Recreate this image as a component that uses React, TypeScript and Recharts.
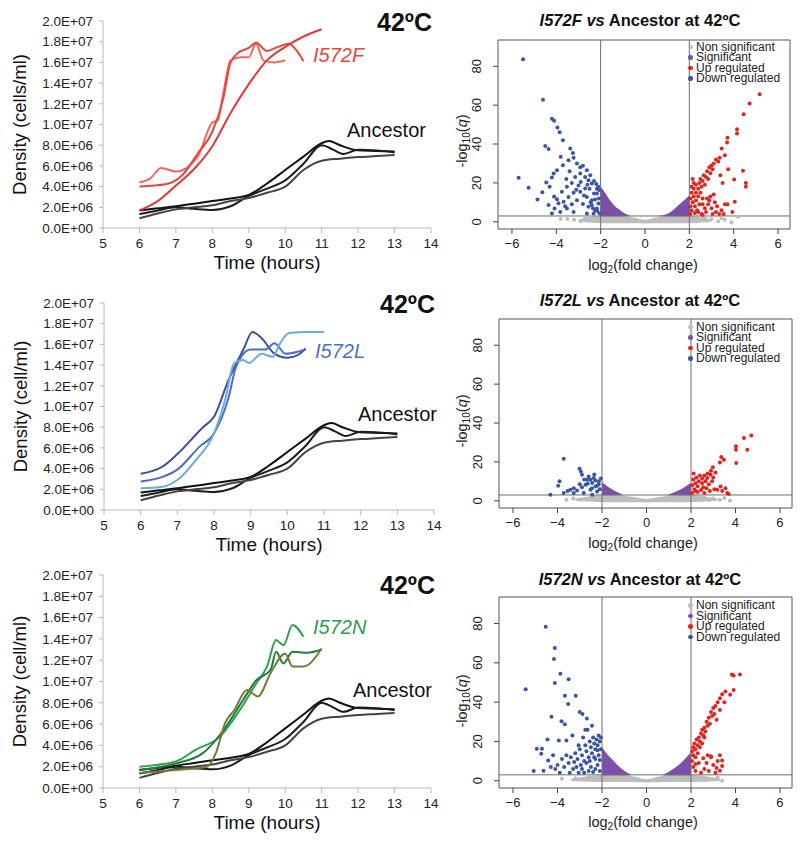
import React from "react";
import {
  LineChart,
  Line,
  XAxis,
  YAxis,
  ComposedChart,
  Scatter,
  Area,
  ReferenceLine,
  ReferenceArea,
} from "recharts";

const FONT = '"Liberation Sans", Arial, Helvetica, sans-serif';

type Pt = [number, number];
type Band = [number, number, number];

// ---------- growth curves (density in millions of cells/ml) ----------
const hours = [5, 6, 7, 8, 9, 10, 11, 12, 13, 14];
const densityTicks = [0, 2e6, 4e6, 6e6, 8e6, 1e7, 1.2e7, 1.4e7, 1.6e7, 1.8e7, 2e7];

const ancestorA: Pt[] = [[6, 1.7], [6.5, 1.9], [7, 2.1], [7.5, 2.35], [8, 2.6], [8.5, 2.85], [9, 3.2], [9.5, 4.3], [10, 5.6], [10.5, 6.9], [11, 8.2], [11.2, 8.4], [11.5, 8.0], [12, 7.5], [12.5, 7.45], [13, 7.4]];
const ancestorB: Pt[] = [[6, 1.35], [6.5, 1.7], [7, 2.0], [7.5, 1.85], [8, 1.75], [8.5, 2.1], [9, 3.1], [9.5, 3.8], [10, 4.6], [10.5, 6.2], [11, 8.0], [11.3, 7.6], [11.6, 7.15], [12, 7.55], [12.5, 7.5], [13, 7.3]];
const ancestorC: Pt[] = [[6, 0.95], [6.5, 1.4], [7, 1.8], [7.5, 2.0], [8, 2.2], [8.5, 2.6], [9, 2.9], [9.5, 3.4], [10, 4.0], [10.5, 5.6], [11, 6.5], [11.5, 6.7], [12, 6.85], [12.5, 6.95], [13, 7.05]];

const i572F1: Pt[] = [[6, 4.4], [6.3, 4.8], [6.6, 5.8], [7, 5.45], [7.6, 6.9], [8, 10.2], [8.15, 10.4], [8.3, 13], [8.5, 16.2], [8.8, 16.5], [9, 16.5], [9.2, 17.8], [9.4, 16.2], [9.7, 16.0], [10, 16.2]];
const i572F2: Pt[] = [[6, 4.0], [6.4, 4.1], [6.8, 4.3], [7.2, 5.2], [7.6, 7.2], [8, 9.3], [8.3, 12.5], [8.5, 16.0], [8.7, 16.9], [9, 17.4], [9.2, 17.9], [9.5, 17.1], [9.8, 17.5], [10.1, 17.8], [10.3, 17.2], [10.5, 16.1]];
const i572F3: Pt[] = [[6, 1.7], [6.5, 2.6], [7, 4.1], [7.5, 5.7], [8, 7.9], [8.5, 11.1], [9, 13.9], [9.5, 16.2], [10, 17.5], [10.5, 18.5], [11, 19.2]];

const i572L1: Pt[] = [[6, 3.5], [6.6, 4.2], [7, 5.4], [7.7, 8.0], [8, 9.0], [8.4, 12.6], [8.8, 15.5], [9.05, 17.2], [9.3, 16.6], [9.65, 15.1], [10, 14.7], [10.3, 15.0], [10.5, 15.6]];
const i572L2: Pt[] = [[6, 2.75], [6.6, 3.2], [7, 3.9], [7.6, 6.1], [8, 7.4], [8.4, 10.9], [8.6, 13.8], [9, 15.5], [9.4, 15.5], [9.65, 16.1], [9.95, 15.1], [10.3, 15.3], [10.5, 15.5]];
const i572L3: Pt[] = [[6, 2.1], [6.6, 2.25], [7, 2.9], [7.5, 4.8], [8, 7.4], [8.3, 10.6], [8.55, 14.2], [8.8, 14.5], [8.95, 14.2], [9.3, 15.1], [9.6, 14.8], [9.8, 16.1], [10.05, 17.1], [10.5, 17.2], [11, 17.2]];

const i572N1: Pt[] = [[6, 2.0], [7, 2.5], [7.55, 3.6], [8.2, 4.8], [8.75, 7.3], [9.2, 9.8], [9.5, 11.4], [9.75, 13.9], [9.95, 13.4], [10.2, 15.3], [10.5, 14.2]];
const i572N2: Pt[] = [[6, 1.7], [7, 2.3], [7.75, 3.3], [8.3, 5.4], [8.85, 8.3], [9.2, 10.1], [9.6, 11.1], [9.75, 12.8], [9.95, 11.7], [10.2, 12.8], [10.6, 12.7], [11, 13.0]];
const i572N3: Pt[] = [[6, 1.4], [7, 1.7], [7.85, 2.0], [8.1, 3.3], [8.35, 6.1], [8.6, 7.3], [8.95, 9.2], [9.25, 8.6], [9.6, 10.8], [10, 12.6], [10.2, 11.4], [10.5, 11.4], [11, 13.1]];

// ---------- volcano plots: [log2 fold change, -log10 q] ----------
const fcTicks = [-6, -4, -2, 0, 2, 4, 6];
const qTicks = [0, 20, 40, 60, 80];

const downF: Pt[] = [[-5.5, 83.6], [-4.6, 62.8], [-4.2, 53], [-4.1, 52], [-3.95, 48.5], [-3.85, 46], [-3.7, 42], [-4.5, 39], [-4.35, 37.5], [-3.37, 37.7], [-3.25, 35.4], [-3.8, 33.4], [-5.7, 22.6], [-5.25, 17.5], [-4.85, 11.5], [-4.63, 15.2], [-4.45, 20.2], [-4.2, 22.8], [-3.97, 26.5], [-3.22, 33], [-3.07, 30], [-2.92, 28], [-2.7, 23], [-2.55, 21.4], [-2.4, 19.7], [-2.17, 17], [-4.35, 8.6], [-4.08, 6.8], [-3.82, 5.1], [-3.52, 6.8], [-4.2, 4.3], [-3.67, 10.3], [-3.45, 12.8], [-3.22, 14.9], [-2.92, 15.4], [-3.07, 11.1], [-2.8, 9.1], [-2.62, 12.8], [-2.55, 7.7], [-2.4, 11.1], [-2.25, 6], [-2.17, 14.6], [-2.1, 9.4], [-2.05, 4.3], [-2.32, 4.3], [-2.62, 4.3], [-3.22, 5.1], [-3.75, 15.4], [-3.97, 11.6], [-3.52, 18], [-3.3, 20], [-3, 18.7], [-2.7, 17.1], [-4.3, 18], [-4.12, 24.8], [-3.7, 29.1], [-3.45, 31.7], [-2.92, 24.8], [-3.15, 23.1], [-2.47, 24], [-2.62, 26.5], [-2.8, 28.8], [-2.3, 14.5], [-2.25, 11.5], [-2.4, 8.6], [-2.17, 6.8], [-2.08, 12], [-2.07, 16.3], [-2.1, 18], [-2.2, 19.5], [-2.3, 21], [-2.5, 17], [-2.6, 19], [-2.9, 20.5], [-3.1, 16.5], [-3.3, 9], [-3.6, 8], [-3.9, 9.5], [-4.1, 13], [-3.4, 26], [-3.55, 22], [-2.75, 13.5], [-2.45, 10], [-2.15, 5.5], [-2.35, 7]];
const upF: Pt[] = [[5.17, 65.6], [4.72, 60.8], [4.45, 55.3], [4.15, 47.6], [4.15, 45.4], [3.72, 43.2], [3.7, 40.8], [3.46, 37.7], [3.6, 34.2], [3.37, 33], [4.42, 26.2], [4.55, 20], [4.55, 18], [4.02, 21.7], [4.05, 10.3], [3.72, 9], [3.94, 5], [2.05, 4], [2.05, 8], [2.05, 12], [2.1, 15], [2.1, 6], [2.15, 10], [2.2, 13], [2.2, 17], [2.25, 4.5], [2.25, 8], [2.3, 11], [2.3, 15], [2.3, 19], [2.35, 6], [2.4, 13], [2.4, 17], [2.45, 20], [2.45, 9], [2.5, 15], [2.5, 22], [2.55, 4], [2.55, 18], [2.6, 21], [2.6, 12], [2.65, 24], [2.7, 19], [2.7, 7], [2.75, 23], [2.8, 26], [2.85, 22], [2.9, 28], [2.95, 25], [3.0, 29], [3.05, 27], [3.1, 30], [3.2, 32], [3.3, 31], [2.4, 5], [2.6, 3.5], [2.75, 5], [2.85, 9], [2.9, 11], [3.0, 7], [3.05, 4], [3.15, 10], [3.2, 5], [3.25, 8], [3.35, 4], [3.45, 6], [3.55, 4], [3.6, 9], [2.8, 12], [2.95, 13], [3.1, 14], [2.6, 9], [2.2, 20], [2.15, 22], [2.1, 18], [3.5, 20], [3.4, 24], [3.75, 27]];
const sigLeftF: Band[] = [[-2, 2.8, 18], [-1.8, 2.8, 15], [-1.57, 2.8, 11], [-1.35, 2.8, 8], [-1.12, 2.8, 6], [-0.9, 2.8, 4.3], [-0.67, 2.8, 3]];
const sigRightF: Band[] = [[0.6, 2.8, 3], [0.8, 2.8, 3.4], [1.05, 2.8, 4.3], [1.25, 2.8, 5.8], [1.5, 2.8, 8.5], [1.75, 2.8, 11], [2.0, 2.8, 13.7]];
const nsBandF: Band[] = [[-3.0, 0, 1.2], [-2.6, -0.3, 2.2], [-2.2, -0.6, 2.8], [-1.5, -0.7, 2.9], [-1.0, -0.7, 2.9], [-0.5, -0.8, 2.2], [0, -0.9, 1.0], [0.5, -0.8, 2.2], [1.0, -0.7, 2.9], [1.5, -0.7, 2.9], [2.2, -0.6, 2.8], [2.6, -0.3, 2.2], [3.0, 0, 1.2]];
const nsDotsF: Pt[] = [[-3.2, 1], [-2.9, 0.3], [-3.5, 1.5], [-2.7, 1.8], [2.8, 0.5], [3.0, 1.5], [3.3, 0.3], [3.6, 1], [4.2, 2.6], [3.9, -0.2], [-3.8, 1.5], [2.7, 2], [3.45, 1.8]];

const downL: Pt[] = [[-3.72, 21.6], [-3.01, 16.5], [-2.95, 15.1], [-2.9, 13.4], [-3.91, 10], [-3.97, 7.7], [-4.32, 3.1], [-3.72, 4], [-3.42, 5.7], [-3.27, 6.5], [-3.12, 5.3], [-2.9, 7], [-2.74, 8.2], [-2.67, 10.8], [-2.52, 10.8], [-2.44, 9.1], [-2.29, 7.4], [-2.52, 5.7], [-2.22, 4.8], [-2.14, 10], [-2.37, 11.7], [-2.64, 8.8], [-2.82, 4], [-2.44, 3.1], [-2.22, 7.7], [-2.1, 6], [-3.27, 4], [-3.55, 5], [-2.6, 12.5], [-2.35, 13.5], [-2.8, 11], [-3.0, 8.5], [-2.45, 6.5], [-2.3, 10.5], [-2.15, 8.5], [-2.05, 11.5]];
const upL: Pt[] = [[4.71, 33.6], [4.38, 32.3], [4.02, 28], [4.02, 26.3], [4.53, 26.3], [4.03, 19.4], [3.36, 22.5], [3.48, 21.1], [3.3, 19.7], [2.98, 17.3], [3.1, 14.6], [2.88, 13.4], [2.73, 11.7], [3.33, 7.4], [3.63, 4], [3.55, 6.5], [3.18, 5.7], [2.05, 4], [2.05, 8], [2.1, 11], [2.15, 6], [2.2, 9], [2.25, 12], [2.3, 4.5], [2.3, 7.5], [2.35, 10], [2.4, 13], [2.45, 5.5], [2.5, 9], [2.5, 11.5], [2.55, 7], [2.6, 13], [2.6, 4], [2.65, 10], [2.7, 6.5], [2.75, 14], [2.8, 8.5], [2.85, 5], [2.9, 15.5], [2.95, 10], [3.0, 12], [3.05, 6], [3.4, 5], [3.7, 3.5], [2.12, 14], [2.2, 5]];
const sigLeftL: Band[] = [[-2, 2.8, 9.5], [-1.75, 2.8, 7.4], [-1.5, 2.8, 5.6], [-1.25, 2.8, 4.1], [-1.06, 2.8, 3]];
const sigRightL: Band[] = [[0.96, 2.8, 3], [1.2, 2.8, 4.1], [1.45, 2.8, 5.4], [1.7, 2.8, 7], [2.0, 2.8, 9.3]];
const nsBandL: Band[] = [[-3.2, 0, 1.2], [-2.6, -0.4, 2.2], [-2.2, -0.6, 2.8], [-1.5, -0.7, 2.9], [-1.0, -0.7, 2.6], [-0.5, -0.8, 1.8], [0, -0.9, 0.9], [0.5, -0.8, 1.8], [1.0, -0.7, 2.6], [1.5, -0.7, 2.9], [2.2, -0.6, 2.8], [2.6, -0.4, 2.2], [3.2, 0, 1.2]];
const nsDotsL: Pt[] = [[3.75, 0], [3.3, 0.5], [2.8, 0.3], [3.0, 1.2], [-3.0, 0.5], [-3.3, 1.2], [-2.7, 0.8], [2.6, 2.0], [3.5, 1.5], [-3.6, 0.6]];

const downN: Pt[] = [[-4.53, 78.3], [-4.12, 67.6], [-4.16, 62], [-4.12, 49.7], [-3.87, 54.5], [-3.5, 51.7], [-5.43, 46.6], [-3.67, 43.2], [-3.18, 43.2], [-3.52, 39], [-4.27, 32.5], [-3.82, 30.3], [-3.67, 28.8], [-3.0, 35], [-2.88, 34], [-2.68, 31.7], [-3.33, 23], [-3.94, 20.5], [-4.93, 16.3], [-4.7, 16.3], [-4.73, 13.7], [-5.07, 5], [-4.63, 5.1], [-4.2, 13], [-4.42, 10.3], [-2.05, 22], [-2.1, 20], [-2.15, 23], [-2.2, 18], [-2.25, 21], [-2.3, 16], [-2.35, 19], [-2.4, 22], [-2.45, 14], [-2.5, 17], [-2.55, 20], [-2.6, 12], [-2.65, 26], [-2.7, 15], [-2.75, 18], [-2.8, 10], [-2.85, 22], [-2.9, 13], [-2.95, 8], [-3.0, 16], [-3.1, 11], [-3.2, 14], [-3.3, 6], [-3.4, 12], [-3.5, 9], [-3.6, 13], [-3.7, 7], [-3.8, 11], [-3.9, 4], [-4.0, 8], [-4.1, 6], [-4.3, 7], [-2.1, 5], [-2.2, 8], [-2.3, 11], [-2.4, 4.5], [-2.5, 7], [-2.6, 5], [-2.7, 9], [-2.8, 4], [-2.9, 6], [-3.05, 4], [-3.15, 7], [-3.25, 9.5], [-3.45, 4], [-2.15, 13], [-2.35, 12], [-2.55, 10], [-2.75, 26], [-2.45, 28], [-3.05, 18], [-3.6, 20.5], [-4.45, 21], [-2.2, 15.5], [-2.1, 10.5], [-2.3, 6], [-2.05, 16]];
const upN: Pt[] = [[3.84, 54], [3.92, 53.6], [4.2, 54], [3.92, 46.2], [3.55, 45.4], [3.76, 43.8], [2.05, 15], [2.1, 17], [2.1, 13], [2.15, 19], [2.2, 16], [2.25, 21], [2.3, 18], [2.3, 14], [2.35, 22], [2.4, 20], [2.45, 24], [2.5, 19], [2.5, 26], [2.55, 23], [2.6, 27], [2.65, 25], [2.7, 30], [2.75, 28], [2.8, 32], [2.85, 29], [2.9, 35], [2.95, 33], [3.0, 37], [3.05, 34], [3.1, 38], [3.2, 40], [3.3, 42], [3.4, 44], [3.5, 40], [3.3, 36], [3.15, 31], [2.6, 22], [2.4, 17], [2.2, 12], [2.05, 10], [2.1, 7], [2.2, 5], [2.35, 9], [2.45, 4], [2.6, 6], [2.7, 9], [2.8, 5], [2.9, 12], [3.0, 8], [3.1, 4], [3.2, 10], [3.3, 13], [3.4, 10.3], [3.3, 5.1], [2.9, 12.5], [2.75, 13], [2.55, 11.5], [3.15, 6.5], [3.4, 7.5], [2.2, 8.5]];
const sigLeftN: Band[] = [[-2, 2.8, 17], [-1.8, 2.8, 14], [-1.58, 2.8, 11.3], [-1.35, 2.8, 8.5], [-1.13, 2.8, 6.2], [-0.9, 2.8, 4.3], [-0.69, 2.8, 3]];
const sigRightN: Band[] = [[0.73, 2.8, 3], [0.95, 2.8, 4.2], [1.2, 2.8, 6], [1.45, 2.8, 8], [1.7, 2.8, 10.8], [2.0, 2.8, 14.5]];
const nsBandN: Band[] = [[-3.4, 0, 1.0], [-2.8, -0.4, 2.0], [-2.2, -0.6, 2.8], [-1.5, -0.7, 2.9], [-1.0, -0.7, 2.9], [-0.5, -0.8, 2.0], [0, -0.9, 0.8], [0.5, -0.8, 2.0], [1.0, -0.7, 2.9], [1.5, -0.7, 2.9], [2.2, -0.6, 2.8], [2.8, -0.4, 2.0], [3.3, 0, 1.0]];
const nsDotsN: Pt[] = [[3.4, 0], [3.0, 0.8], [2.7, 0.4], [3.2, 1.6], [-2.8, 0.6], [-3.2, 1.3], [-3.8, 1.0], [2.5, 1.8], [-2.6, 1.9]];

const FC_DOMAIN: [number, number] = [-6.63, 6.54];
const Q_DOMAIN: [number, number] = [-3.7, 93.5];

const C_NS = "#bdbdbd";
const C_SIG = "#7d4fa8";
const C_UP = "#e4231e";
const C_DOWN = "#3a55a4";

const LEFT_W = 450;

const toGrowth = (a: Pt[]) => a.map(([t, m]) => ({ t, v: m * 1e6 }));
const toXY = (a: Pt[]) => a.map(([x, y]) => ({ x, y }));
const toBand = (a: Band[]) => a.map(([x, lo, hi]) => ({ x, r: [lo, hi] }));

function sci(v: number) {
  if (v === 0) return "0.0E+00";
  const e = Math.floor(Math.log10(v) + 1e-9);
  const m = v / Math.pow(10, e);
  return `${m.toFixed(1)}E+${String(e).padStart(2, "0")}`;
}

const ancestorLines = [
  { pts: ancestorA, color: "#111111" },
  { pts: ancestorB, color: "#1c1c1c" },
  { pts: ancestorC, color: "#444444" },
];

function GrowthPanel(props: any) {
  const { top, height, plotTop, plotBottom, plotLeft, plotRight, yLabel, mutant, mutantColor, lines, mutantPos, ancestorPos, tempPos } = props;
  const all = [...ancestorLines, ...lines];
  return (
    <div style={{ position: "absolute", left: 0, top, width: LEFT_W, height }}>
      <LineChart
        width={LEFT_W}
        height={height}
        margin={{ top: plotTop, right: LEFT_W - plotRight, bottom: 0, left: plotLeft - 94 }}
      >
        <XAxis
          type="number"
          dataKey="t"
          domain={[5, 14]}
          ticks={hours}
          interval={0}
          height={height - plotBottom}
          axisLine={{ stroke: "#b8b8b8" }}
          tickLine={{ stroke: "#b8b8b8" }}
          tickSize={5}
          tickMargin={5}
          tick={{ fontSize: 13.5, fill: "#222", fontFamily: FONT }}
          label={{ value: "Time (hours)", position: "insideTop", offset: 28, fill: "#111", fontSize: 19, fontFamily: FONT }}
        />
        <YAxis
          type="number"
          domain={[0, 2e7]}
          ticks={densityTicks}
          interval={0}
          width={94}
          tickFormatter={sci}
          axisLine={{ stroke: "#b8b8b8" }}
          tickLine={{ stroke: "#b8b8b8" }}
          tickSize={4}
          tickMargin={6}
          tick={{ fontSize: 13.5, fill: "#222", fontFamily: FONT }}
          label={{ value: yLabel, angle: -90, position: "insideLeft", offset: 10, fill: "#111", fontSize: 18.5, fontFamily: FONT, style: { textAnchor: "middle" } }}
        />
        {all.map((l: any, i: number) => (
          <Line
            key={i}
            data={toGrowth(l.pts)}
            dataKey="v"
            type="monotone"
            stroke={l.color}
            strokeWidth={2}
            dot={false}
            activeDot={false}
            isAnimationActive={false}
          />
        ))}
      </LineChart>
      <div style={{ position: "absolute", left: tempPos[0], top: tempPos[1] - 14, fontSize: 25, fontWeight: "bold", lineHeight: "28px", color: "#111" }}>
        42ºC
      </div>
      <div style={{ position: "absolute", left: mutantPos[0], top: mutantPos[1] - 11, fontSize: 20, fontStyle: "italic", lineHeight: "22px", color: mutantColor }}>
        {mutant}
      </div>
      <div style={{ position: "absolute", left: ancestorPos[0], top: ancestorPos[1] - 11, fontSize: 20, lineHeight: "22px", color: "#111" }}>
        Ancestor
      </div>
    </div>
  );
}

const dot = (fill: string) => (p: any) => <circle cx={p.cx} cy={p.cy} r={2} fill={fill} />;

function RotTick(props: any) {
  const { x, y, payload } = props;
  return (
    <text x={x} y={y} transform={`rotate(-90 ${x} ${y})`} textAnchor="middle" fontSize={13} fill="#222" fontFamily={FONT}>
      {payload.value}
    </text>
  );
}

const legendItems = [
  { label: "Non significant", color: C_NS },
  { label: "Significant", color: C_SIG },
  { label: "Up regulated", color: C_UP },
  { label: "Down regulated", color: C_DOWN },
];

function VolcanoPanel(props: any) {
  const { top, height, plotTop, plotBottom, plotLeft, plotRight, mutant, down, up, sigL, sigR, nsBand, nsDots, titleY, xLabelY, legendY } = props;
  return (
    <div style={{ position: "absolute", left: 440, top, width: 360, height }}>
      <ComposedChart
        width={360}
        height={height}
        margin={{ top: plotTop, right: 360 - plotRight, bottom: 0, left: 0 }}
      >
        <XAxis
          type="number"
          dataKey="x"
          domain={FC_DOMAIN}
          allowDataOverflow
          ticks={fcTicks}
          interval={0}
          height={height - plotBottom}
          axisLine={false}
          tickLine={{ stroke: "#444" }}
          tickSize={5}
          tickMargin={5}
          tick={{ fontSize: 13, fill: "#222", fontFamily: FONT }}
          tickFormatter={(v: number) => (v < 0 ? `\u2212${-v}` : `${v}`)}
        />
        <YAxis
          type="number"
          dataKey="y"
          domain={Q_DOMAIN}
          allowDataOverflow
          ticks={qTicks}
          interval={0}
          width={plotLeft}
          axisLine={false}
          tickLine={{ stroke: "#444" }}
          tickSize={5}
          tickMargin={12}
          tick={<RotTick />}
        />
        <Area data={toBand(nsBand)} dataKey="r" type="monotone" stroke="none" fill={C_NS} fillOpacity={1} isAnimationActive={false} />
        <Area data={toBand(sigL)} dataKey="r" type="monotone" stroke="none" fill={C_SIG} fillOpacity={1} isAnimationActive={false} />
        <Area data={toBand(sigR)} dataKey="r" type="monotone" stroke="none" fill={C_SIG} fillOpacity={1} isAnimationActive={false} />
        <Scatter data={toXY(nsDots)} shape={dot(C_NS)} isAnimationActive={false} />
        <Scatter data={toXY(down)} shape={dot(C_DOWN)} isAnimationActive={false} />
        <Scatter data={toXY(up)} shape={dot(C_UP)} isAnimationActive={false} />
        <ReferenceLine x={-2} stroke="#6e6e6e" strokeWidth={1} />
        <ReferenceLine x={2} stroke="#6e6e6e" strokeWidth={1} />
        <ReferenceLine y={3} stroke="#6e6e6e" strokeWidth={1} />
        <ReferenceArea x1={FC_DOMAIN[0]} x2={FC_DOMAIN[1]} y1={Q_DOMAIN[0]} y2={Q_DOMAIN[1]} fill="none" fillOpacity={0} stroke="#555" strokeWidth={1} />
      </ComposedChart>
      <div style={{ position: "absolute", left: 40, width: 320, top: titleY - 10, textAlign: "center", fontWeight: "bold", fontSize: 16.5, lineHeight: "20px", color: "#111" }}>
        <i>{mutant} vs</i> Ancestor at 42ºC
      </div>
      <div style={{ position: "absolute", left: -38, top: 131, width: 120, height: 20, textAlign: "center", transform: "rotate(-90deg)", fontSize: 14.5, lineHeight: "20px", color: "#222" }}>
        -log<sub style={{ fontSize: "0.7em", verticalAlign: "-0.3em", lineHeight: 0 }}>10</sub>(<i>q</i>)
      </div>
      <div style={{ position: "absolute", left: 103, top: xLabelY - 11, width: 200, textAlign: "center", fontSize: 14.5, lineHeight: "20px", color: "#222" }}>
        log<sub style={{ fontSize: "0.7em", verticalAlign: "-0.3em", lineHeight: 0 }}>2</sub>(fold change)
      </div>
      <div style={{ position: "absolute", left: 248, top: legendY, fontSize: 12, lineHeight: "10.5px", color: "#222" }}>
        {legendItems.map((it) => (
          <div key={it.label} style={{ display: "flex", alignItems: "center", height: 10.5 }}>
            <span style={{ display: "inline-block", width: 4.5, height: 4.5, borderRadius: "50%", background: it.color, marginRight: 3.5 }} />
            {it.label}
          </div>
        ))}
      </div>
    </div>
  );
}

export default function App() {
  return (
    <div style={{ position: "absolute", left: 0, top: 0, width: 800, height: 844, background: "#fff", fontFamily: FONT, overflow: "hidden" }}>
      <GrowthPanel
        top={0}
        height={280}
        plotTop={21}
        plotBottom={228}
        plotLeft={103}
        plotRight={431}
        yLabel="Density (cells/ml)"
        mutant="I572F"
        mutantColor="#e8453c"
        tempPos={[377, 22]}
        mutantPos={[313, 55]}
        ancestorPos={[347, 130]}
        lines={[
          { pts: i572F1, color: "#f0675f" },
          { pts: i572F2, color: "#e8453c" },
          { pts: i572F3, color: "#e23a35" },
        ]}
      />
      <GrowthPanel
        top={280}
        height={280}
        plotTop={23}
        plotBottom={230}
        plotLeft={104}
        plotRight={434}
        yLabel="Density (cell/ml)"
        mutant="I572L"
        mutantColor="#4a72c4"
        tempPos={[380, 24]}
        mutantPos={[315, 71]}
        ancestorPos={[358, 134]}
        lines={[
          { pts: i572L1, color: "#3d4ea5" },
          { pts: i572L2, color: "#4f6cc4" },
          { pts: i572L3, color: "#6aaae0" },
        ]}
      />
      <GrowthPanel
        top={560}
        height={284}
        plotTop={15}
        plotBottom={228}
        plotLeft={103}
        plotRight={431}
        yLabel="Density (cell/ml)"
        mutant="I572N"
        mutantColor="#2e9a52"
        tempPos={[380, 25]}
        mutantPos={[313, 67]}
        ancestorPos={[353, 130]}
        lines={[
          { pts: i572N1, color: "#2fa04e" },
          { pts: i572N2, color: "#1e7d3c" },
          { pts: i572N3, color: "#717b3c" },
        ]}
      />
      <VolcanoPanel
        top={0}
        height={280}
        plotTop={40}
        plotBottom={229}
        plotLeft={58}
        plotRight={350}
        mutant="I572F"
        down={downF}
        up={upF}
        sigL={sigLeftF}
        sigR={sigRightF}
        nsBand={nsBandF}
        nsDots={nsDotsF}
        titleY={20}
        xLabelY={266}
        legendY={41.5}
      />
      <VolcanoPanel
        top={280}
        height={280}
        plotTop={39}
        plotBottom={228}
        plotLeft={59}
        plotRight={352}
        mutant="I572L"
        down={downL}
        up={upL}
        sigL={sigLeftL}
        sigR={sigRightL}
        nsBand={nsBandL}
        nsDots={nsDotsL}
        titleY={20}
        xLabelY={264}
        legendY={41.5}
      />
      <VolcanoPanel
        top={560}
        height={284}
        plotTop={37}
        plotBottom={228}
        plotLeft={59}
        plotRight={352}
        mutant="I572N"
        down={downN}
        up={upN}
        sigL={sigLeftN}
        sigR={sigRightN}
        nsBand={nsBandN}
        nsDots={nsDotsN}
        titleY={18.5}
        xLabelY={263}
        legendY={40}
      />
    </div>
  );
}
